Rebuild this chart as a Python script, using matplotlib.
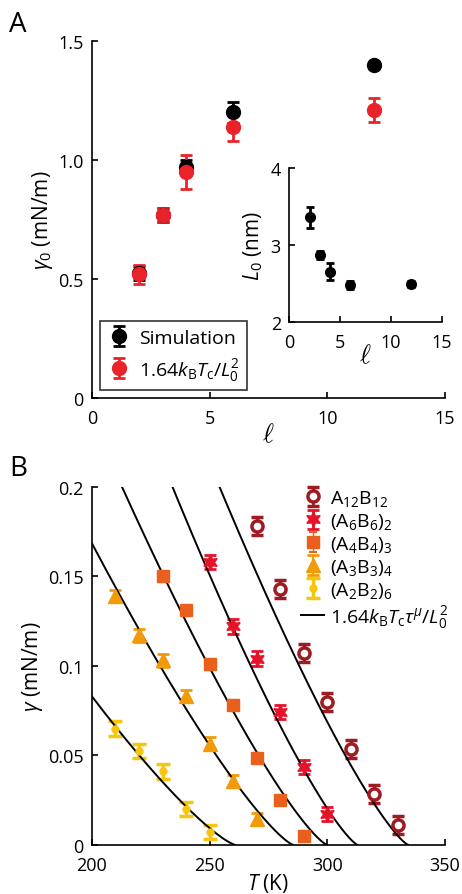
import numpy as np
import matplotlib
matplotlib.use("Agg")
import matplotlib.pyplot as plt

plt.rcParams['font.family'] = ['Open Sans', 'DejaVu Sans']
plt.rcParams['mathtext.fontset'] = 'custom'
plt.rcParams['mathtext.rm'] = 'Open Sans'
plt.rcParams['mathtext.it'] = 'Open Sans:italic'
plt.rcParams['mathtext.bf'] = 'Open Sans:bold'

# ---- panel A data ----
ell = [2, 3, 4, 6, 12]
gamma0_sim = [0.525, 0.77, 0.97, 1.20, 1.40]
gamma0_sim_err = [0.03, 0.03, 0.03, 0.045, 0.0]
gamma0_fit = [0.52, 0.77, 0.95, 1.14, 1.21]
gamma0_fit_err = [0.04, 0.03, 0.07, 0.06, 0.05]

# inset
L0 = [3.36, 2.87, 2.655, 2.48, 2.49]
L0_err = [0.14, 0.05, 0.11, 0.05, 0.04]

# ---- panel B data ----
T_a12 = [270, 280, 290, 300, 310, 320, 330]
g_a12 = [0.178, 0.143, 0.107, 0.080, 0.0537, 0.0285, 0.0108]
T_a6 = [250, 260, 270, 280, 290, 300]
g_a6 = [0.158, 0.122, 0.104, 0.0742, 0.0434, 0.0173]
T_a4 = [230, 240, 250, 260, 270, 280, 290]
g_a4 = [0.150, 0.131, 0.101, 0.078, 0.0485, 0.0248, 0.0047]
T_a3 = [210, 220, 230, 240, 250, 260, 270]
g_a3 = [0.139, 0.117, 0.103, 0.083, 0.0565, 0.0356, 0.0145]
T_a2 = [210, 220, 230, 240, 250]
g_a2 = [0.0649, 0.0524, 0.041, 0.0201, 0.0071]

Tc = [260.7, 285.4, 299.8, 312.8, 334.3]  # A2B2, A3B3, A4B4, A6B6, A12B12
mu = 1.26

TICK_FS = 13
fig = plt.figure(figsize=(4.62, 8.95), dpi=100)

def style(ax, fs=TICK_FS):
    for s in ['top', 'right']:
        ax.spines[s].set_visible(False)
    for s in ['left', 'bottom']:
        ax.spines[s].set_linewidth(1.2)
    ax.tick_params(direction='in', length=4, width=1.2, labelsize=fs, pad=6)
    ax.tick_params(axis='x', pad=8)

# ---------- panel A ----------
axA = fig.add_axes([0.199, 0.554, 0.764, 0.399])
style(axA)
axA.errorbar(ell, gamma0_sim, yerr=gamma0_sim_err, fmt='o', color='black',
             ms=10, elinewidth=2, capsize=4, capthick=2, label='Simulation')
axA.errorbar(ell, gamma0_fit, yerr=gamma0_fit_err, fmt='o', color='#e8242a',
             ms=10, elinewidth=2, capsize=4, capthick=2,
             label=r'1.64$k_{\mathrm{B}}T_{\mathrm{c}}/L_0^2$')
axA.set_xlim(0, 15)
axA.set_ylim(0, 1.5)
axA.set_xticks([0, 5, 10, 15])
axA.set_yticks([0, 0.5, 1.0, 1.5])
axA.set_yticklabels(['0', '0.5', '1.0', '1.5'])
axA.set_xlabel(r'$\ell$', fontsize=19, labelpad=-4, math_fontfamily='cm')
axA.set_ylabel(r'$\gamma_0$ (mN/m)', fontsize=15, labelpad=2)
leg = axA.legend(loc='lower left', bbox_to_anchor=(0.022, 0.022), fontsize=14,
                 frameon=True, fancybox=False, edgecolor='black', borderaxespad=0,
                 handletextpad=0.4, borderpad=0.4, handlelength=1.2, labelspacing=0.45)
leg.get_frame().set_linewidth(1.2)
fig.text(0.02, 0.964, 'A', fontsize=20)

# inset
axI = fig.add_axes([0.626, 0.639, 0.33, 0.172])
style(axI)
axI.errorbar(ell, L0, yerr=L0_err, fmt='o', color='black', ms=7,
             elinewidth=2, capsize=3, capthick=2)
axI.set_xlim(0, 15)
axI.set_ylim(2, 4)
axI.set_xticks([0, 5, 10, 15])
axI.set_yticks([2, 3, 4])
axI.set_xlabel(r'$\ell$', fontsize=19, labelpad=-6, math_fontfamily='cm')
axI.set_ylabel(r'$L_0$ (nm)', fontsize=15, labelpad=4)

# ---------- panel B ----------
axB = fig.add_axes([0.199, 0.055, 0.764, 0.400])
style(axB)
c12, c6, c4, c3, c2 = '#9e1b22', '#e5132a', '#e8601c', '#f39a0a', '#f8c50e'
axB.errorbar(T_a12, g_a12, yerr=0.005, fmt='o', color=c12, mfc='white', mec=c12,
             mew=2.5, ms=8, elinewidth=2, capsize=4, capthick=2, label=r'A$_{12}$B$_{12}$')
axB.errorbar(T_a6, g_a6, yerr=0.004, marker=(6, 1, 0), linestyle='none', color=c6,
             ms=11, elinewidth=2, capsize=4, capthick=2, label=r'(A$_6$B$_6$)$_2$')
axB.errorbar(T_a4, g_a4, yerr=0.003, fmt='s', color=c4, ms=9, elinewidth=1,
             capsize=3, capthick=1.5, label=r'(A$_4$B$_4$)$_3$')
axB.errorbar(T_a3, g_a3, yerr=0.0035, fmt='^', color=c3, ms=10, elinewidth=1.5,
             capsize=4, capthick=2, label=r'(A$_3$B$_3$)$_4$')
axB.errorbar(T_a2, g_a2, yerr=0.004, fmt='o', color=c2, ms=5, elinewidth=2.5,
             capsize=5, capthick=2.5, label=r'(A$_2$B$_2$)$_6$')

# model curves: gamma = gamma0 * tau^mu, gamma0 from panel A (red points)
for i, (tc, g0) in enumerate(zip(Tc, gamma0_fit)):
    T = np.linspace(200, tc, 200)
    axB.plot(T, g0 * (1 - T / tc) ** mu, color='black', lw=1.4,
             label=r'1.64$k_{\mathrm{B}}T_{\mathrm{c}}\tau^{\mu}/L_0^2$' if i == 0 else None)

axB.set_xlim(200, 350)
axB.set_ylim(0, 0.2)
axB.set_xticks([200, 250, 300, 350])
axB.set_yticks([0, 0.05, 0.1, 0.15, 0.2])
axB.set_yticklabels(['0', '0.05', '0.1', '0.15', '0.2'])
axB.set_xlabel(r'$T$ (K)', fontsize=15, labelpad=-2)
axB.set_ylabel(r'$\gamma$ (mN/m)', fontsize=15, labelpad=2)
h, l = axB.get_legend_handles_labels()
# put the model line last, as in the figure
order = [1, 2, 3, 4, 5, 0]
axB.legend([h[k] for k in order], [l[k] for k in order], loc='upper right',
           bbox_to_anchor=(1.06, 1.045), fontsize=14, frameon=False,
           handletextpad=0.3, handlelength=1.2, labelspacing=0.15)
fig.text(0.02, 0.468, 'B', fontsize=20)

fig.savefig('out.png', dpi=100)
